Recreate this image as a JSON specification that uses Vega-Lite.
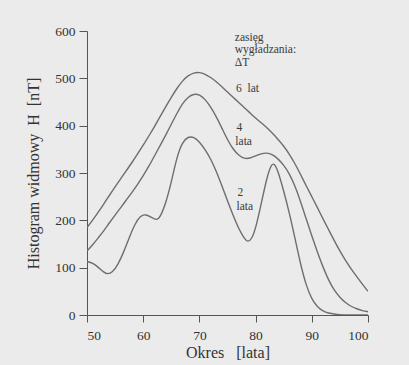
{
  "$schema": "https://vega.github.io/schema/vega-lite/v6.json",
  "autosize": "none",
  "width": 281,
  "height": 284,
  "padding": {"left": 87, "top": 31, "right": 41, "bottom": 50},
  "background": "#ebebeb",
  "datasets": {
    "curves": [
      {"s":"6","x":50,"y":185},{"s":"6","x":51,"y":200},{"s":"6","x":52,"y":217},{"s":"6","x":53,"y":235},{"s":"6","x":54,"y":253},{"s":"6","x":55,"y":271},{"s":"6","x":56,"y":288},{"s":"6","x":57,"y":305},{"s":"6","x":58,"y":322},{"s":"6","x":59,"y":340},{"s":"6","x":60,"y":359},{"s":"6","x":61,"y":378},{"s":"6","x":62,"y":398},{"s":"6","x":63,"y":419},{"s":"6","x":64,"y":440},{"s":"6","x":65,"y":460},{"s":"6","x":66,"y":479},{"s":"6","x":67,"y":495},{"s":"6","x":68,"y":506},{"s":"6","x":69,"y":512},{"s":"6","x":70,"y":513},{"s":"6","x":71,"y":509},{"s":"6","x":72,"y":502},{"s":"6","x":73,"y":493},{"s":"6","x":74,"y":482},{"s":"6","x":75,"y":471},{"s":"6","x":76,"y":460},{"s":"6","x":77,"y":449},{"s":"6","x":78,"y":438},{"s":"6","x":79,"y":427},{"s":"6","x":80,"y":416},{"s":"6","x":81,"y":406},{"s":"6","x":82,"y":396},{"s":"6","x":83,"y":384},{"s":"6","x":84,"y":371},{"s":"6","x":85,"y":357},{"s":"6","x":86,"y":340},{"s":"6","x":87,"y":320},{"s":"6","x":88,"y":297},{"s":"6","x":89,"y":273},{"s":"6","x":90,"y":250},{"s":"6","x":91,"y":227},{"s":"6","x":92,"y":203},{"s":"6","x":93,"y":180},{"s":"6","x":94,"y":157},{"s":"6","x":95,"y":135},{"s":"6","x":96,"y":115},{"s":"6","x":97,"y":97},{"s":"6","x":98,"y":81},{"s":"6","x":99,"y":65},{"s":"6","x":100,"y":50},
      {"s":"4","x":50,"y":135},{"s":"4","x":51,"y":148},{"s":"4","x":52,"y":163},{"s":"4","x":53,"y":178},{"s":"4","x":54,"y":195},{"s":"4","x":55,"y":211},{"s":"4","x":56,"y":227},{"s":"4","x":57,"y":243},{"s":"4","x":58,"y":259},{"s":"4","x":59,"y":276},{"s":"4","x":60,"y":294},{"s":"4","x":61,"y":314},{"s":"4","x":62,"y":336},{"s":"4","x":63,"y":358},{"s":"4","x":64,"y":380},{"s":"4","x":65,"y":403},{"s":"4","x":66,"y":426},{"s":"4","x":67,"y":447},{"s":"4","x":68,"y":461},{"s":"4","x":69,"y":467},{"s":"4","x":70,"y":466},{"s":"4","x":71,"y":456},{"s":"4","x":72,"y":440},{"s":"4","x":73,"y":419},{"s":"4","x":74,"y":395},{"s":"4","x":75,"y":370},{"s":"4","x":76,"y":350},{"s":"4","x":77,"y":337},{"s":"4","x":78,"y":330},{"s":"4","x":79,"y":331},{"s":"4","x":80,"y":336},{"s":"4","x":81,"y":341},{"s":"4","x":82,"y":343},{"s":"4","x":83,"y":339},{"s":"4","x":84,"y":330},{"s":"4","x":85,"y":317},{"s":"4","x":86,"y":299},{"s":"4","x":87,"y":273},{"s":"4","x":88,"y":240},{"s":"4","x":89,"y":203},{"s":"4","x":90,"y":167},{"s":"4","x":91,"y":133},{"s":"4","x":92,"y":101},{"s":"4","x":93,"y":73},{"s":"4","x":94,"y":52},{"s":"4","x":95,"y":37},{"s":"4","x":96,"y":26},{"s":"4","x":97,"y":18},{"s":"4","x":98,"y":13},{"s":"4","x":99,"y":9},{"s":"4","x":100,"y":7},
      {"s":"2","x":50,"y":113},{"s":"2","x":51,"y":110},{"s":"2","x":52,"y":101},{"s":"2","x":53,"y":90},{"s":"2","x":53.7,"y":86},{"s":"2","x":54.5,"y":90},{"s":"2","x":55.5,"y":106},{"s":"2","x":56.5,"y":132},{"s":"2","x":57.5,"y":163},{"s":"2","x":58.5,"y":192},{"s":"2","x":59.5,"y":210},{"s":"2","x":60.5,"y":213},{"s":"2","x":61.5,"y":206},{"s":"2","x":62.4,"y":200},{"s":"2","x":63,"y":206},{"s":"2","x":64,"y":235},{"s":"2","x":65,"y":280},{"s":"2","x":66,"y":335},{"s":"2","x":67,"y":366},{"s":"2","x":68,"y":377},{"s":"2","x":69,"y":376},{"s":"2","x":70,"y":366},{"s":"2","x":71,"y":350},{"s":"2","x":72,"y":330},{"s":"2","x":73,"y":304},{"s":"2","x":74,"y":273},{"s":"2","x":75,"y":241},{"s":"2","x":76,"y":210},{"s":"2","x":77,"y":182},{"s":"2","x":78,"y":161},{"s":"2","x":78.6,"y":154},{"s":"2","x":79.3,"y":160},{"s":"2","x":80,"y":182},{"s":"2","x":81,"y":235},{"s":"2","x":82,"y":290},{"s":"2","x":82.7,"y":316},{"s":"2","x":83.3,"y":322},{"s":"2","x":84,"y":304},{"s":"2","x":85,"y":262},{"s":"2","x":86,"y":216},{"s":"2","x":87,"y":163},{"s":"2","x":88,"y":107},{"s":"2","x":89,"y":62},{"s":"2","x":90,"y":33},{"s":"2","x":91,"y":17},{"s":"2","x":92,"y":8},{"s":"2","x":93,"y":4},{"s":"2","x":94,"y":2},{"s":"2","x":95,"y":0.5},{"s":"2","x":96,"y":0},{"s":"2","x":100,"y":0}
    ],
    "labels": [
      {"x":76.3,"y":586,"t":"zasięg"},
      {"x":76.3,"y":559,"t":"wygładzania:"},
      {"x":76.3,"y":533,"t":"ΔT"},
      {"x":76.5,"y":477,"t":"6\u00a0\u00a0lat"},
      {"x":76.6,"y":396,"t":"4"},
      {"x":76.4,"y":365,"t":"lata"},
      {"x":76.8,"y":257,"t":"2"},
      {"x":76.6,"y":228,"t":"lata"}
    ]
  },
  "layer": [
    {
      "data": {"name": "curves"},
      "mark": {"type": "line", "interpolate": "basis", "color": "#6e6e6e", "strokeWidth": 1.4, "clip": true},
      "encoding": {
        "x": {"field": "x", "type": "quantitative", "scale": {"domain": [50, 100], "nice": false, "zero": false},
          "axis": {"values": [50,60,70,80,90,100], "title": "Okres\u00a0\u00a0\u00a0[lata]"}},
        "y": {"field": "y", "type": "quantitative", "scale": {"domain": [0, 600], "nice": false},
          "axis": {"values": [0,100,200,300,400,500,600], "title": "Histogram widmowy\u00a0\u00a0H\u00a0\u00a0[nT]"}},
        "detail": {"field": "s", "type": "nominal"}
      }
    },
    {
      "data": {"name": "labels"},
      "mark": {"type": "text", "align": "left", "baseline": "middle", "font": "Liberation Serif", "fontSize": 11.5, "color": "#3a3a3a"},
      "encoding": {
        "x": {"field": "x", "type": "quantitative"},
        "y": {"field": "y", "type": "quantitative"},
        "text": {"field": "t"}
      }
    }
  ],
  "config": {
    "font": "Liberation Serif",
    "view": {"stroke": null},
    "text": {"font": "Liberation Serif"},
    "axis": {
      "grid": false,
      "domainColor": "#555555",
      "tickColor": "#555555",
      "labelFont": "Liberation Serif",
      "labelFontSize": 13.5,
      "labelColor": "#333333",
      "titleFont": "Liberation Serif",
      "titleFontSize": 16,
      "titleFontWeight": "normal",
      "titleColor": "#333333"
    },
    "axisX": {"tickSize": 7, "labelPadding": 6, "titlePadding": 3},
    "axisY": {"tickSize": 8, "labelPadding": 4, "titlePadding": 13}
  }
}
